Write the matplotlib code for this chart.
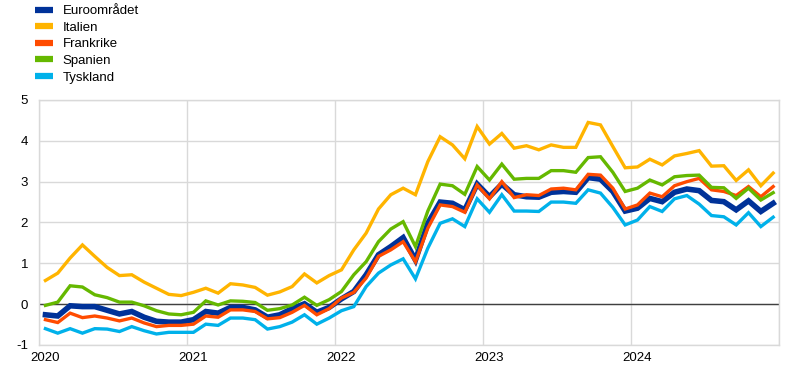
import matplotlib

matplotlib.use("Agg")
import matplotlib.pyplot as plt
import numpy as np
from matplotlib.lines import Line2D

plt.rcParams["font.family"] = ["Liberation Sans", "DejaVu Sans"]
plt.rcParams["axes.unicode_minus"] = False

# monthly values, Jan 2020 - Dec 2024
years = ["2020", "2021", "2022", "2023", "2024"]

euro_area = [
    -0.26, -0.29, -0.04, -0.06, -0.06, -0.15, -0.24, -0.18, -0.32, -0.42, -0.44, -0.44,
    -0.38, -0.18, -0.22, -0.08, -0.08, -0.14, -0.32, -0.26, -0.11, 0.01, -0.20, -0.08,
    0.13, 0.31, 0.72, 1.21, 1.41, 1.63, 1.08, 1.98, 2.50, 2.47, 2.31, 2.94,
    2.63, 2.94, 2.68, 2.63, 2.62, 2.74, 2.76, 2.74, 3.10, 3.06, 2.76, 2.28,
    2.35, 2.59, 2.51, 2.74, 2.82, 2.78, 2.54, 2.51, 2.31, 2.53, 2.27, 2.47,
]
italy = [
    0.58, 0.76, 1.13, 1.45, 1.17, 0.90, 0.70, 0.72, 0.54, 0.39, 0.24, 0.21,
    0.29, 0.39, 0.27, 0.50, 0.47, 0.41, 0.22, 0.30, 0.43, 0.74, 0.52, 0.70,
    0.84, 1.33, 1.74, 2.33, 2.68, 2.84, 2.68, 3.49, 4.10, 3.90, 3.56, 4.35,
    3.92, 4.18, 3.82, 3.88, 3.78, 3.90, 3.84, 3.84, 4.45, 4.39, 3.86, 3.34,
    3.36, 3.55, 3.41, 3.63, 3.69, 3.76, 3.38, 3.39, 3.03, 3.29, 2.90, 3.21,
]
france = [
    -0.38, -0.45, -0.22, -0.33, -0.29, -0.34, -0.41, -0.34, -0.46, -0.55, -0.52, -0.52,
    -0.49, -0.29, -0.32, -0.14, -0.14, -0.18, -0.36, -0.33, -0.20, -0.03, -0.26, -0.11,
    0.15, 0.29, 0.64, 1.17, 1.33, 1.53, 1.04, 1.86, 2.43, 2.39, 2.25, 2.92,
    2.58, 3.00, 2.61, 2.68, 2.66, 2.82, 2.84, 2.80, 3.18, 3.16, 2.84, 2.33,
    2.43, 2.72, 2.63, 2.90, 3.00, 3.08, 2.80, 2.76, 2.66, 2.88, 2.63, 2.88,
]
spain = [
    -0.03, 0.05, 0.45, 0.42, 0.23, 0.16, 0.05, 0.05, -0.04, -0.16, -0.24, -0.26,
    -0.20, 0.08, -0.02, 0.08, 0.07, 0.04, -0.15, -0.11, -0.02, 0.17, -0.03, 0.11,
    0.31, 0.72, 1.04, 1.53, 1.84, 2.02, 1.41, 2.28, 2.94, 2.90, 2.69, 3.37,
    3.04, 3.43, 3.06, 3.08, 3.08, 3.27, 3.27, 3.23, 3.59, 3.61, 3.23, 2.76,
    2.84, 3.04, 2.92, 3.12, 3.15, 3.16, 2.86, 2.85, 2.59, 2.84, 2.55, 2.73,
]
germany = [
    -0.60, -0.71, -0.60, -0.71, -0.60, -0.61, -0.67, -0.55, -0.65, -0.73, -0.69, -0.69,
    -0.69, -0.49, -0.52, -0.34, -0.34, -0.38, -0.61, -0.55, -0.44, -0.26, -0.49, -0.34,
    -0.16, -0.06, 0.43, 0.76, 0.96, 1.11, 0.62, 1.37, 1.98, 2.09, 1.90, 2.58,
    2.25, 2.68, 2.28, 2.28, 2.27, 2.50, 2.50, 2.47, 2.80, 2.72, 2.37, 1.94,
    2.06, 2.39, 2.27, 2.58, 2.66, 2.45, 2.17, 2.14, 1.94, 2.24, 1.90, 2.13,
]

series = [
    ("Euroområdet", euro_area, "#003299", 4.0),
    ("Italien", italy, "#ffb400", 2.4),
    ("Frankrike", france, "#ff4b00", 2.4),
    ("Spanien", spain, "#65b800", 2.4),
    ("Tyskland", germany, "#00b1ea", 2.4),
]

GRID = "#d9d9d9"

fig = plt.figure(figsize=(7.95, 3.72), dpi=100, facecolor="white")
ax = fig.add_axes([0.0494, 0.0726, 0.9309, 0.6586])

n = len(euro_area)
x = np.arange(n) + 0.5
for label, vals, color, lw in series:
    ax.plot(x, vals, color=color, lw=lw, solid_joinstyle="miter", zorder=3)

ax.set_xlim(0, n)
ax.set_ylim(-1, 5)
ax.set_yticks(range(-1, 6))
ax.set_xticks(np.arange(len(years)) * 12 + 0.5)
ax.set_xticklabels(years)
ax.set_xticks(np.arange(len(years) + 1) * 12, minor=True)
ax.grid(True, which="major", axis="y", color=GRID, lw=1)
ax.grid(True, which="minor", axis="x", color=GRID, lw=1)
ax.tick_params(which="both", length=0, labelsize=9.5, colors="#000000")
ax.tick_params(axis="y", pad=8)
ax.tick_params(axis="x", pad=5)
ax.axhline(0, color="#404040", lw=1, zorder=2)
for s in ax.spines.values():
    s.set_color(GRID)
    s.set_linewidth(1)

handles = [Line2D([], [], color=c, lw=4.5, solid_capstyle="butt") for _, _, c, _ in series]
fig.legend(
    handles,
    [s[0] for s in series],
    loc="upper left",
    bbox_to_anchor=(0.038, 1.001),
    frameon=False,
    fontsize=9.5,
    handlelength=1.3,
    handletextpad=0.75,
    labelspacing=0.33,
    borderaxespad=0,
)

fig.savefig("out.png", dpi=100, facecolor="white")
